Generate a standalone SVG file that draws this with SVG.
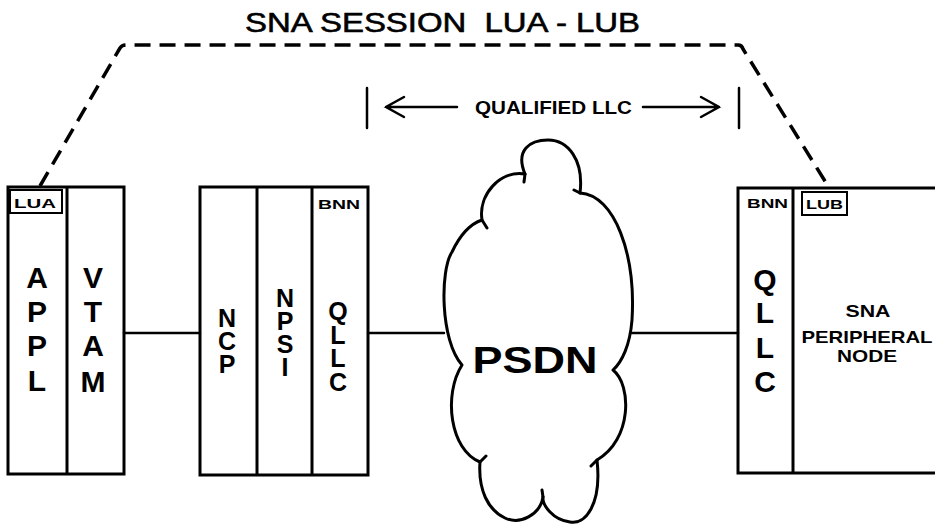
<svg xmlns="http://www.w3.org/2000/svg" width="935" height="527" viewBox="0 0 935 527">
<style>
.box{fill:none;stroke:#000;stroke-width:3}
.ln{fill:none;stroke:#000;stroke-width:2.5;stroke-linecap:round}
.cl{fill:none;stroke:#000;stroke-width:3;stroke-linecap:round;stroke-linejoin:round}
.dash{fill:none;stroke:#000;stroke-width:3.5;stroke-dasharray:16 9}
.big{font-family:"Liberation Sans",Arial,sans-serif;font-weight:bold;font-size:30px;text-anchor:middle;fill:#000}
.mid{font-family:"Liberation Sans",Arial,sans-serif;font-weight:bold;font-size:25px;text-anchor:middle;fill:#000}
.sm{font-family:"Liberation Sans",Arial,sans-serif;font-weight:bold;font-size:12px;fill:#000}
.pn{font-family:"Liberation Sans",Arial,sans-serif;font-weight:bold;font-size:17px;text-anchor:middle;fill:#000}
</style>
<rect width="935" height="527" fill="#fff"/>

<g id="title">
<text x="245" y="32" font-family="Liberation Sans, Arial, sans-serif" font-size="27" stroke="#000" stroke-width="0.6" textLength="395" lengthAdjust="spacingAndGlyphs" xml:space="preserve">SNA SESSION  LUA - LUB</text>
</g>

<g id="connectors">
<path class="dash" d="M40,186 L120,48 Q122,45 126,45 L738,45 Q742,45 743,49 L828,186"/>
<line class="ln" x1="124" y1="333" x2="200" y2="333"/>
<line class="ln" x1="368" y1="333" x2="444" y2="333"/>
<line class="ln" x1="632" y1="333" x2="738" y2="333"/>
</g>

<g id="qualified-llc">
<line class="ln" x1="367" y1="88" x2="367" y2="128" stroke-width="3"/>
<line class="ln" x1="739" y1="88" x2="739" y2="128" stroke-width="3"/>
<path class="ln" stroke-width="3" d="M457,107 L386,107 M404,97 L386,107 L404,117"/>
<path class="ln" stroke-width="3" d="M643,107 L719,107 M701,97 L719,107 L701,117"/>
<text x="475" y="114" font-family="Liberation Sans, Arial, sans-serif" font-weight="bold" font-size="18" textLength="157" lengthAdjust="spacingAndGlyphs">QUALIFIED LLC</text>
</g>

<g id="host">
<rect class="box" x="8" y="187" width="116" height="287"/>
<line class="box" x1="67" y1="187" x2="67" y2="474"/>
<rect x="10" y="190" width="52" height="23" fill="none" stroke="#000" stroke-width="2"/>
<text class="sm" x="14" y="208" font-size="13" textLength="42" lengthAdjust="spacingAndGlyphs">LUA</text>
<text class="big" x="37" y="288">A</text>
<text class="big" x="37" y="322">P</text>
<text class="big" x="37" y="356">P</text>
<text class="big" x="37" y="391">L</text>
<text class="big" x="93" y="288">V</text>
<text class="big" x="93" y="322">T</text>
<text class="big" x="93" y="356">A</text>
<text class="big" x="93" y="392">M</text>
</g>

<g id="fep">
<rect class="box" x="200" y="187" width="168" height="288"/>
<line class="box" x1="257" y1="187" x2="257" y2="475"/>
<line class="box" x1="312" y1="187" x2="312" y2="475"/>
<text class="sm" x="318" y="209" textLength="42" lengthAdjust="spacingAndGlyphs">BNN</text>
<text class="mid" x="227" y="327">N</text>
<text class="mid" x="227" y="350">C</text>
<text class="mid" x="227" y="373">P</text>
<text class="mid" x="285" y="307">N</text>
<text class="mid" x="285" y="330">P</text>
<text class="mid" x="285" y="353">S</text>
<text class="mid" x="285" y="376">I</text>
<text class="mid" x="338" y="320">Q</text>
<text class="mid" x="338" y="344">L</text>
<text class="mid" x="338" y="367">L</text>
<text class="mid" x="338" y="391">C</text>
</g>

<g id="psdn">
<path class="cl" d="M525,174 C515,150 530,140 548,140 C568,140 584,160 580,193
 C615,195 636,255 632,320 C630,345 622,362 613,370
 C632,385 632,440 597,460
 C602,505 585,525 570,522 C553,520 542,505 543,497
 C540,515 520,525 505,518 C488,510 478,490 480,462
 C450,450 443,395 462,365
 C440,340 440,270 452,252 C460,235 470,224 482,220
 C478,195 500,170 525,174"/>
<path class="cl" d="M525,174 L524,182 M580,193 L574,190 M482,220 L487,228 M480,462 L486,456 M597,460 L591,466 M543,497 L542,490"/>
<text x="535" y="373" font-family="Liberation Sans, Arial, sans-serif" font-weight="bold" font-size="36" text-anchor="middle" textLength="125" lengthAdjust="spacingAndGlyphs">PSDN</text>
</g>

<g id="peripheral">
<rect class="box" x="738" y="188" width="205" height="285"/>
<line class="box" x1="793" y1="188" x2="793" y2="473"/>
<text class="sm" x="747" y="208" textLength="41" lengthAdjust="spacingAndGlyphs">BNN</text>
<rect x="802" y="192" width="45" height="23" fill="none" stroke="#000" stroke-width="2"/>
<text class="sm" x="806" y="209" font-size="13" textLength="37" lengthAdjust="spacingAndGlyphs">LUB</text>
<text class="big" x="765" y="290">Q</text>
<text class="big" x="765" y="323">L</text>
<text class="big" x="765" y="358">L</text>
<text class="big" x="765" y="392">C</text>
<text class="pn" x="868" y="317" textLength="45" lengthAdjust="spacingAndGlyphs">SNA</text>
<text class="pn" x="867" y="343" textLength="131" lengthAdjust="spacingAndGlyphs">PERIPHERAL</text>
<text class="pn" x="867" y="362" textLength="60" lengthAdjust="spacingAndGlyphs">NODE</text>
</g>
</svg>
